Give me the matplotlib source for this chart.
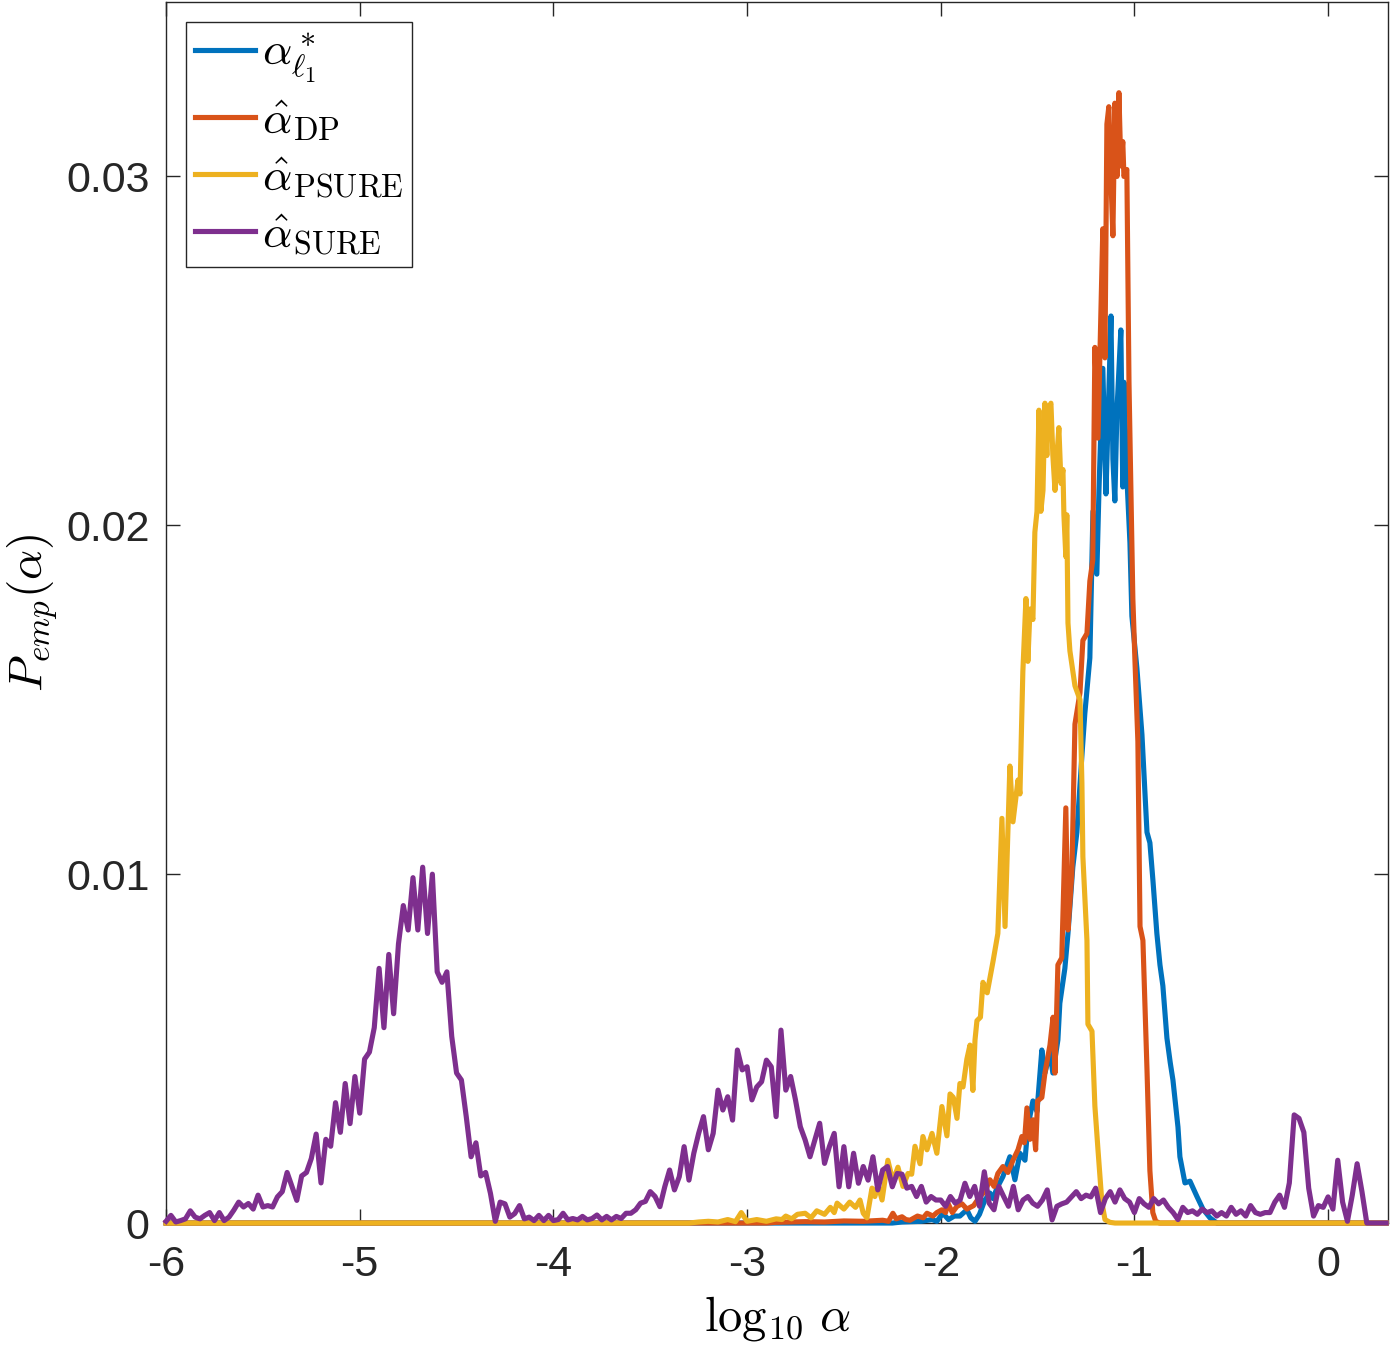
import numpy as np
import matplotlib
matplotlib.use("Agg")
import matplotlib.pyplot as plt

# values, in units of 1e-3
# SURE on a regular grid: -6.0 .. 0.3 step 0.025
SURE_X0, SURE_DX = -6.0, 0.025
SURE_Y = [
    0.05, 0.22, 0.03, 0.07, 0.12, 0.35, 0.17, 0.12,
    0.22, 0.30, 0.07, 0.30, 0.07, 0.17, 0.37, 0.60,
    0.46, 0.56, 0.40, 0.80, 0.46, 0.50, 0.46, 0.75,
    0.90, 1.45, 1.05, 0.65, 1.35, 1.45, 1.85, 2.55,
    1.15, 2.40, 2.20, 3.45, 2.60, 4.00, 2.85, 4.20,
    3.15, 4.70, 4.90, 5.60, 7.30, 5.60, 7.70, 6.00,
    8.00, 9.10, 8.40, 9.90, 8.40, 10.2, 8.30, 10.0,
    7.20, 6.90, 7.20, 5.35, 4.30, 4.10, 3.05, 1.90,
    2.30, 1.35, 1.45, 0.85, 0.05, 0.60, 0.55, 0.17,
    0.27, 0.50, 0.12, 0.17, 0.07, 0.22, 0.07, 0.22,
    0.07, 0.10, 0.28, 0.09, 0.13, 0.09, 0.19, 0.09,
    0.13, 0.23, 0.09, 0.19, 0.09, 0.19, 0.13, 0.28,
    0.28, 0.38, 0.57, 0.62, 0.90, 0.76, 0.47, 1.04,
    1.52, 0.95, 1.33, 2.19, 1.23, 2.00, 2.57, 3.05,
    2.10, 2.57, 3.81, 3.24, 3.62, 2.95, 4.96, 4.39,
    4.48, 3.53, 3.90, 4.05, 4.67, 4.48, 3.05, 5.53,
    3.81, 4.20, 3.53, 2.76, 2.38, 1.90, 2.38, 2.86,
    1.71, 2.19, 2.57, 1.04, 2.19, 1.04, 2.00, 1.14,
    1.62, 1.23, 1.90, 0.95, 1.52, 1.62, 1.04, 1.42,
    1.40, 1.00, 1.05, 0.76, 1.05, 0.60, 0.76, 0.66,
    0.66, 0.48, 0.76, 0.57, 0.66, 1.14, 0.76, 1.05,
    0.48, 1.47, 0.57, 0.38, 1.05, 0.76, 0.48, 1.05,
    0.38, 0.66, 0.76, 0.57, 0.48, 0.66, 0.95, 0.09,
    0.48, 0.55, 0.60, 0.75, 0.90, 0.70, 0.80, 0.75,
    1.00, 0.30, 0.70, 0.90, 0.60, 0.95, 0.70, 0.60,
    0.30, 0.70, 0.55, 0.45, 0.70, 0.55, 0.66, 0.45,
    0.30, 0.10, 0.45, 0.30, 0.35, 0.25, 0.40, 0.30,
    0.35, 0.20, 0.30, 0.20, 0.45, 0.25, 0.35, 0.20,
    0.50, 0.30, 0.25, 0.30, 0.30, 0.60, 0.80, 0.45,
    1.15, 3.10, 3.00, 2.60, 1.00, 0.20, 0.50, 0.45,
    0.75, 0.40, 1.80, 0.60, 0.05, 0.80, 1.70, 0.90,
    0.00, 0.00, 0.00, 0.00, 0.00,
]

# the other three: (log10 alpha, value) pairs
L1_PTS = [
    (-6.0, 0), (-2.25, 0), (-2.2, 0.03), (-2.1, 0.05), (-2.045, 0.1), (-2.02, 0.05),
    (-1.989, 0.28), (-1.96, 0.1), (-1.93, 0.2), (-1.901, 0.2), (-1.865, 0.38),
    (-1.845, 0.15), (-1.823, 0.05), (-1.8, 0.25), (-1.772, 0.66), (-1.746, 0.86),
    (-1.73, 0.7), (-1.71, 1.0), (-1.679, 1.33), (-1.643, 1.9), (-1.617, 1.24),
    (-1.591, 2.0), (-1.565, 1.8), (-1.55, 2.76), (-1.524, 3.5), (-1.503, 3.2),
    (-1.478, 4.96), (-1.462, 4.3), (-1.436, 4.9), (-1.421, 4.3), (-1.395, 5.25),
    (-1.385, 6.3), (-1.359, 7.3), (-1.343, 8.3), (-1.318, 10.2), (-1.297, 11.2),
    (-1.271, 13.4), (-1.256, 14.6), (-1.23, 16.2), (-1.214, 20.4), (-1.194, 18.6),
    (-1.183, 21.0), (-1.163, 24.5), (-1.147, 20.9), (-1.137, 22.8), (-1.121, 26.0),
    (-1.111, 21.9), (-1.101, 20.7), (-1.09, 23.3), (-1.07, 25.6), (-1.06, 21.1),
    (-1.054, 24.1), (-1.039, 21.4), (-1.023, 19.5), (-1.013, 17.4), (-0.987, 15.9),
    (-0.961, 14.0), (-0.935, 11.2), (-0.92, 10.9), (-0.904, 9.8), (-0.884, 8.3),
    (-0.868, 7.4), (-0.853, 6.8), (-0.832, 5.3), (-0.815, 4.6), (-0.801, 4.1),
    (-0.775, 2.75), (-0.765, 1.9), (-0.739, 1.15), (-0.713, 1.2), (-0.677, 0.76),
    (-0.646, 0.4), (-0.61, 0.15), (-0.574, 0), (0.3, 0),
]

DP_PTS = [
    (-6.0, 0), (-2.9, 0), (-2.85, 0.02), (-2.7, 0.04), (-2.6, 0.03), (-2.5, 0.06),
    (-2.4, 0.05), (-2.3, 0.08), (-2.27, 0.05), (-2.247, 0.28), (-2.23, 0.12),
    (-2.2, 0.18), (-2.18, 0.1), (-2.159, 0.08), (-2.12, 0.2), (-2.09, 0.15),
    (-2.071, 0.28), (-2.04, 0.2), (-2.02, 0.3), (-1.994, 0.38), (-1.975, 0.3),
    (-1.963, 0.57), (-1.94, 0.3), (-1.916, 0.48), (-1.89, 0.55), (-1.865, 0.4),
    (-1.83, 0.5), (-1.798, 0.76), (-1.772, 0.9), (-1.746, 1.24), (-1.725, 1.05),
    (-1.705, 1.42), (-1.679, 1.62), (-1.653, 1.45), (-1.627, 1.8), (-1.601, 2.1),
    (-1.581, 2.48), (-1.568, 2.3), (-1.555, 3.3), (-1.539, 2.4), (-1.524, 2.96),
    (-1.51, 2.1), (-1.5, 3.5), (-1.478, 3.6), (-1.462, 4.3), (-1.436, 5.1),
    (-1.42, 5.9), (-1.41, 4.3), (-1.395, 7.4), (-1.375, 7.6), (-1.354, 11.9),
    (-1.343, 8.4), (-1.323, 10.0), (-1.307, 14.3), (-1.281, 15.2), (-1.266, 16.7),
    (-1.245, 16.9), (-1.23, 18.4), (-1.215, 19.0), (-1.204, 25.1), (-1.188, 22.5),
    (-1.163, 28.5), (-1.152, 24.8), (-1.142, 31.5), (-1.132, 32.0), (-1.121, 29.9),
    (-1.111, 28.3), (-1.101, 32.1), (-1.09, 30.0), (-1.08, 32.4), (-1.07, 30.3),
    (-1.06, 31.0), (-1.054, 30.0), (-1.039, 30.2), (-1.028, 24.1), (-1.008, 17.9),
    (-0.997, 16.1), (-0.982, 13.8), (-0.971, 8.5), (-0.956, 8.1), (-0.935, 4.4),
    (-0.92, 1.5), (-0.905, 0.3), (-0.89, 0.05), (-0.87, 0), (0.3, 0),
]

PSURE_PTS = [
    (-6.0, 0), (-3.3, 0), (-3.25, 0.03), (-3.2, 0.05), (-3.15, 0.03), (-3.1, 0.1),
    (-3.06, 0.04), (-3.03, 0.3), (-3.0, 0.05), (-2.95, 0.1), (-2.9, 0.05),
    (-2.85, 0.12), (-2.82, 0.1), (-2.8, 0.2), (-2.77, 0.12), (-2.74, 0.25),
    (-2.7, 0.28), (-2.67, 0.15), (-2.64, 0.35), (-2.6, 0.25), (-2.57, 0.45),
    (-2.55, 0.3), (-2.535, 0.57), (-2.5, 0.4), (-2.47, 0.6), (-2.44, 0.45),
    (-2.417, 0.66), (-2.4, 0.28), (-2.381, 0.15), (-2.355, 1.0), (-2.34, 0.76),
    (-2.324, 1.1), (-2.303, 0.66), (-2.273, 1.8), (-2.247, 1.2), (-2.221, 1.6),
    (-2.195, 1.05), (-2.169, 1.42), (-2.15, 1.4), (-2.133, 2.2), (-2.107, 1.7),
    (-2.092, 2.48), (-2.071, 2.1), (-2.045, 2.57), (-2.02, 2.0), (-1.994, 3.34),
    (-1.968, 2.5), (-1.952, 3.7), (-1.935, 3.6), (-1.916, 3.0), (-1.901, 4.0),
    (-1.885, 3.9), (-1.865, 4.7), (-1.849, 5.1), (-1.834, 3.8), (-1.823, 5.25),
    (-1.813, 5.8), (-1.795, 5.9), (-1.782, 6.9), (-1.76, 6.6), (-1.73, 7.5),
    (-1.705, 8.3), (-1.684, 11.6), (-1.668, 8.5), (-1.643, 13.1), (-1.627, 11.5),
    (-1.601, 12.7), (-1.591, 12.3), (-1.576, 15.8), (-1.56, 17.9), (-1.55, 16.1),
    (-1.539, 17.6), (-1.524, 17.3), (-1.514, 19.8), (-1.503, 20.4), (-1.493, 23.3),
    (-1.483, 20.4), (-1.472, 21.0), (-1.462, 23.5), (-1.452, 22.0), (-1.447, 23.3),
    (-1.431, 23.5), (-1.421, 22.0), (-1.41, 21.0), (-1.4, 22.0), (-1.39, 22.8),
    (-1.379, 21.2), (-1.369, 21.6), (-1.364, 20.3), (-1.354, 19.1), (-1.349, 20.3),
    (-1.343, 17.2), (-1.333, 16.4), (-1.307, 15.4), (-1.281, 15.0), (-1.271, 12.6),
    (-1.266, 10.5), (-1.245, 8.1), (-1.24, 5.7), (-1.219, 5.5), (-1.204, 3.35),
    (-1.188, 2.1), (-1.168, 0.6), (-1.152, 0.1), (-1.126, 0.02), (-1.1, 0), (0.3, 0),
]

LABELS = [r"$\alpha^*_{\ell_1}$", r"$\hat{\alpha}_{\mathrm{DP}}$",
          r"$\hat{\alpha}_{\mathrm{PSURE}}$", r"$\hat{\alpha}_{\mathrm{SURE}}$"]
COLORS = ["#0072BD", "#D95319", "#EDB120", "#7E2F8E"]

XTICKS = [-6, -5, -4, -3, -2, -1, 0]
YTICKS = [0, 0.01, 0.02, 0.03]
YTICKLABELS = ["0", "0.01", "0.02", "0.03"]

plt.rcParams.update({
    "font.family": "Liberation Sans",
    "mathtext.fontset": "cm",
    "axes.unicode_minus": False,
})

fig = plt.figure(figsize=(13.92, 13.48), dpi=100)
ax = fig.add_axes([0.1193, 0.0927, 0.8779, 0.9058])

sure_x = SURE_X0 + SURE_DX * np.arange(len(SURE_Y))
series = [
    np.array(L1_PTS).T,
    np.array(DP_PTS).T,
    np.array(PSURE_PTS).T,
    np.vstack([sure_x, SURE_Y]),
]
for (xs, ys), c, lab in zip(series, COLORS, LABELS):
    ax.plot(xs, np.asarray(ys) * 1e-3, color=c, lw=3.7, label=lab,
            zorder=3, clip_on=False, solid_joinstyle="round")

ax.set_xlim(-6, 0.31)
ax.set_ylim(0, 0.035)
ax.set_xticks(XTICKS)
ax.set_xticklabels([str(t) for t in XTICKS])
ax.set_yticks(YTICKS)
ax.set_yticklabels(YTICKLABELS)
ax.tick_params(direction="in", length=10, width=1, top=True, right=True,
               labelsize=31, colors="#262626")
ax.tick_params(axis="x", pad=16)
ax.tick_params(axis="y", pad=12)
for s in ax.spines.values():
    s.set_color("#262626")
    s.set_linewidth(1)

ax.set_xlabel(r"$\log_{10}\,\alpha$", fontsize=35, labelpad=6)
ax.set_ylabel(r"$P_{emp}(\alpha)$", fontsize=34, labelpad=4)

leg = ax.legend(loc="upper left", bbox_to_anchor=(0.0164, 0.9836),
                borderaxespad=0, fontsize=33, handlelength=1.3,
                handletextpad=0.15, borderpad=0.2, labelspacing=0.28,
                fancybox=False, framealpha=1)
leg.get_frame().set_edgecolor("#262626")
leg.get_frame().set_linewidth(1)

fig.savefig("out.png", dpi=100)
